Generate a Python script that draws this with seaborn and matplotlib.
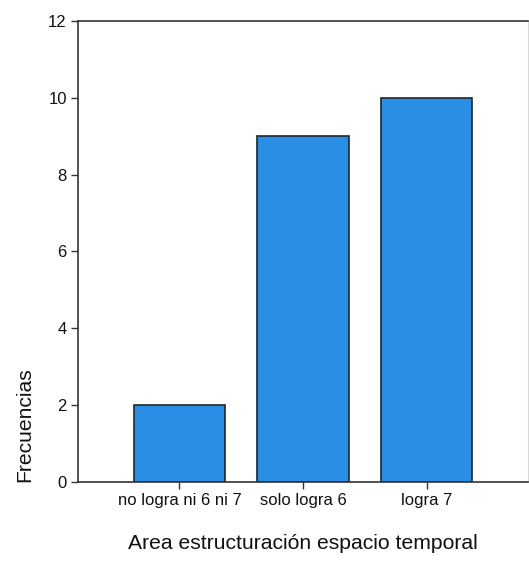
import pandas as pd
import seaborn as sns
import matplotlib.pyplot as plt

categorias = ["no logra ni 6 ni 7", "solo logra 6", "logra 7"]
frecuencias = [2, 9, 10]
y_ticks = [0, 2, 4, 6, 8, 10, 12]

sns.set_style("white")
plt.rcParams['font.family'] = ['Liberation Sans', 'DejaVu Sans']

df = pd.DataFrame({"categoria": categorias, "frecuencia": frecuencias})

fig = plt.figure(figsize=(5.29, 5.64), dpi=100)
ax = fig.add_axes([0.1474, 0.1454, 0.851, 0.8174])

sns.barplot(data=df, x="categoria", y="frecuencia", ax=ax,
            color="#2a8ee4", saturation=1, width=0.74,
            edgecolor="#1c2630", linewidth=1.2)

ax.set_xlim(-0.82, 2.82)
ax.set_ylim(0, 12)
ax.set_yticks(y_ticks)
ax.set_yticklabels([str(t) for t in y_ticks])

for side in ["left", "top", "bottom"]:
    ax.spines[side].set_visible(True)
    ax.spines[side].set_color("#333333")
    ax.spines[side].set_linewidth(1.2)
ax.spines["right"].set_color("#d8d8d8")
ax.spines["right"].set_linewidth(0.8)

ax.tick_params(axis="both", direction="out", length=5, width=1,
               color="#333333", labelsize=12, labelcolor="#111111")
ax.tick_params(axis="y", left=True, pad=3)
ax.tick_params(axis="x", bottom=True, pad=3)

ax.set_xlabel("Area estructuración espacio temporal", fontsize=15.2,
              color="#111111", labelpad=19)
ax.set_ylabel("Frecuencias", fontsize=15.2, color="#111111",
              loc="bottom", labelpad=10)

plt.savefig("out.png", dpi=100)
plt.close()
